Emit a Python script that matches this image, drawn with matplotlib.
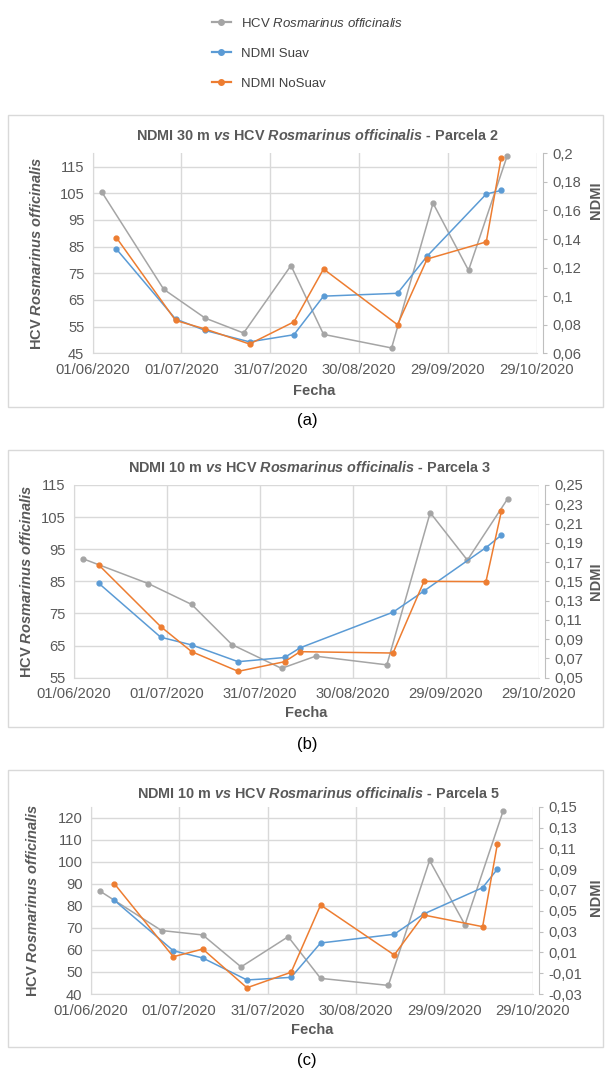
import matplotlib
matplotlib.use('Agg')
import matplotlib.pyplot as plt
import matplotlib.dates as mdates
from matplotlib.lines import Line2D
from matplotlib.patches import Rectangle
from matplotlib.ticker import FixedLocator, FuncFormatter
import pandas as pd

plt.rcParams['font.family'] = ['Liberation Sans', 'DejaVu Sans']
plt.rcParams['mathtext.fontset'] = 'custom'
plt.rcParams['mathtext.rm'] = 'Liberation Sans'
plt.rcParams['mathtext.it'] = 'Liberation Sans:italic'
plt.rcParams['mathtext.bf'] = 'Liberation Sans:bold'
try:
    plt.rcParams['mathtext.bfit'] = 'Liberation Sans:italic:bold'
    BFIT = r'\mathbfit'
except KeyError:
    BFIT = r'\mathit'

# ---- data ----
hcv_dates = ['2020-06-04', '2020-06-25', '2020-07-09', '2020-07-22', '2020-08-07',
             '2020-08-18', '2020-09-10', '2020-09-24', '2020-10-06', '2020-10-19']
ndmi_dates_30m = ['2020-06-09', '2020-06-29', '2020-07-09', '2020-07-24', '2020-08-08',
                  '2020-08-18', '2020-09-12', '2020-09-22', '2020-10-12', '2020-10-17']
ndmi_dates_p3 = ['2020-06-09', '2020-06-29', '2020-07-09', '2020-07-24', '2020-08-08',
                 '2020-08-13', '2020-09-12', '2020-09-22', '2020-10-12', '2020-10-17']
ndmi_dates_p5 = ['2020-06-09', '2020-06-29', '2020-07-09', '2020-07-24', '2020-08-08',
                 '2020-08-18', '2020-09-12', '2020-09-22', '2020-10-12', '2020-10-17']

# Parcela 2 (30 m)
hcv_p2 = [105.6, 69.0, 58.2, 52.6, 77.9, 52.1, 47.0, 101.3, 76.1, 118.8]
suav_p2 = [0.133, 0.084, 0.076, 0.068, 0.073, 0.100, 0.102, 0.128, 0.1715, 0.174]
nosuav_p2 = [0.141, 0.083, 0.077, 0.0665, 0.082, 0.119, 0.080, 0.126, 0.138, 0.1965]

# Parcela 3 (10 m)
hcv_p3 = [92.0, 84.3, 77.8, 65.3, 57.9, 61.7, 59.0, 106.4, 91.6, 110.7]
suav_p3 = [0.148, 0.092, 0.084, 0.0666, 0.071, 0.081, 0.118, 0.140, 0.185, 0.198]
nosuav_p3 = [0.167, 0.103, 0.077, 0.0566, 0.0666, 0.077, 0.0756, 0.150, 0.1497, 0.223]

# Parcela 5 (10 m)
hcv_p5 = [86.8, 68.8, 66.8, 52.3, 66.0, 47.1, 43.9, 100.6, 71.4, 123.2]
suav_p5 = [0.060, 0.0116, 0.0046, -0.0165, -0.014, 0.019, 0.0274, 0.0469, 0.0722, 0.090]
nosuav_p5 = [0.076, 0.0058, 0.0132, -0.024, -0.0091, 0.0555, 0.0075, 0.0459, 0.0347, 0.114]

x_ticks = ['2020-06-01', '2020-07-01', '2020-07-31', '2020-08-30', '2020-09-29', '2020-10-29']

GRAY = '#A5A5A5'
BLUE = '#5B9BD5'
ORANGE = '#ED7D31'
TXT = '#595959'
GRID = '#D9D9D9'

W, H = 611, 1072
fig = plt.figure(figsize=(W / 100, H / 100), dpi=100)


def fx(px):
    return px / W


def fy(py):
    return 1 - py / H


def ndmi_fmt(v, pos):
    s = f'{v:.2f}'.rstrip('0').rstrip('.')
    if s in ('-0', ''):
        s = '0'
    return s.replace('.', ',')


def panel(box, frame, title, title_xy, hcv, ndates, suav, nosuav,
          ylim, yticks, y2lim, y2ticks, ylab_x, fecha_y, ndmi_xy):
    left, top, right, bottom = box
    fig.patches.append(Rectangle((fx(8), fy(frame[1])), fx(603) - fx(8), fy(frame[0]) - fy(frame[1]),
                                 transform=fig.transFigure, fill=False, edgecolor=GRID, lw=1))
    ax = fig.add_axes([fx(left), fy(bottom), fx(right) - fx(left), fy(top) - fy(bottom)])
    ax2 = ax.twinx()

    xd = pd.to_datetime(hcv_dates)
    nd = pd.to_datetime(ndates)
    ax.plot(xd, hcv, color=GRAY, lw=1.1, marker='o', ms=3.5, zorder=3)
    ax2.plot(nd, suav, color=BLUE, lw=1.1, marker='o', ms=3.5, zorder=3)
    ax2.plot(nd, nosuav, color=ORANGE, lw=1.1, marker='o', ms=3.5, zorder=4)

    ax.set_xlim(pd.Timestamp(x_ticks[0]), pd.Timestamp(x_ticks[-1]))
    ax.xaxis.set_major_locator(FixedLocator(mdates.date2num(pd.to_datetime(x_ticks))))
    ax.xaxis.set_major_formatter(mdates.DateFormatter('%d/%m/%Y'))
    ax.set_ylim(*ylim)
    ax.set_yticks(yticks)
    ax2.set_ylim(*y2lim)
    ax2.set_yticks(y2ticks)
    ax2.yaxis.set_major_formatter(FuncFormatter(ndmi_fmt))

    ax.grid(True, color=GRID, lw=1)
    ax.set_axisbelow(True)
    for s in ['top', 'right']:
        ax.spines[s].set_visible(False)
    for s in ['left', 'bottom']:
        ax.spines[s].set_color(GRID)
    for s in ['top', 'left', 'bottom']:
        ax2.spines[s].set_visible(False)
    ax2.spines['right'].set_position(('outward', 4.5))
    ax2.spines['right'].set_color('#BFBFBF')

    ax.tick_params(axis='both', length=0, labelsize=10.6, labelcolor=TXT)
    ax.tick_params(axis='y', pad=6)
    ax.tick_params(axis='x', pad=7)
    ax2.tick_params(axis='y', length=3, color='#BFBFBF', labelsize=10.6, labelcolor=TXT, pad=4)

    fig.text(fx(title_xy[0]), fy(title_xy[1]), title, ha='center', va='center',
             fontsize=10.4, fontweight='bold', color=TXT)
    fig.text(fx(ylab_x), fy((top + bottom) / 2), 'HCV $' + BFIT + r'{Rosmarinus\ officinalis}$',
             rotation=90, ha='center', va='center', fontsize=10.5, fontweight='bold', color=TXT)
    fig.text(fx((left + right) / 2), fy(fecha_y), 'Fecha', ha='center', va='center',
             fontsize=10.5, fontweight='bold', color=TXT)
    fig.text(fx(ndmi_xy[0]), fy(ndmi_xy[1]), 'NDMI', rotation=90, ha='center', va='center',
             fontsize=10.5, fontweight='bold', color=TXT)
    return ax


panel((92.7, 153.3, 536.6, 353.3), (115, 407),
      'NDMI 30 m $' + BFIT + '{vs}$ HCV $' + BFIT + r'{Rosmarinus\ officinalis}$ - Parcela 2', (318, 136),
      hcv_p2, ndmi_dates_30m, suav_p2, nosuav_p2,
      (45, 120), list(range(45, 116, 10)), (0.06, 0.2), [0.06, 0.08, 0.10, 0.12, 0.14, 0.16, 0.18, 0.20],
      37, 391, (596, 200))

panel((74, 485, 538.6, 677.7), (450, 727),
      'NDMI 10 m $' + BFIT + '{vs}$ HCV $' + BFIT + r'{Rosmarinus\ officinalis}$ - Parcela 3', (310, 468),
      hcv_p3, ndmi_dates_p3, suav_p3, nosuav_p3,
      (55, 115), list(range(55, 116, 10)), (0.05, 0.25),
      [0.05, 0.07, 0.09, 0.11, 0.13, 0.15, 0.17, 0.19, 0.21, 0.23, 0.25],
      27, 713, (596, 581))

panel((90.8, 806.7, 532.7, 994), (770, 1047),
      'NDMI 10 m $' + BFIT + '{vs}$ HCV $' + BFIT + r'{Rosmarinus\ officinalis}$ - Parcela 5', (319, 793),
      hcv_p5, ndmi_dates_p5, suav_p5, nosuav_p5,
      (40, 125), list(range(40, 121, 10)), (-0.03, 0.15),
      [-0.03, -0.01, 0.01, 0.03, 0.05, 0.07, 0.09, 0.11, 0.13, 0.15],
      33, 1030, (596, 897))

for lab, yy in [('(a)', 420), ('(b)', 744), ('(c)', 1061)]:
    fig.text(fx(307), fy(yy), lab, ha='center', va='center', fontsize=12, color='black')

handles = [Line2D([], [], color=c, lw=1.6, marker='o', ms=4) for c in (GRAY, BLUE, ORANGE)]
labels = [r'HCV $\mathit{Rosmarinus\ officinalis}$', 'NDMI Suav', 'NDMI NoSuav']
fig.legend(handles, labels, loc='upper left', bbox_to_anchor=(fx(205), fy(10)), frameon=False,
           fontsize=9.5, handlelength=1.5, handletextpad=0.7, labelspacing=1.35,
           borderpad=0, labelcolor='#404040')

fig.savefig('out.png', dpi=100)
